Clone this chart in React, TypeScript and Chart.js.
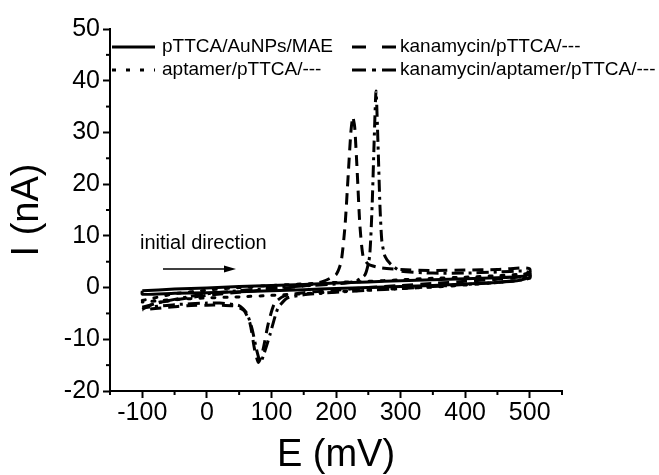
import React, { useEffect, useRef } from "react";
import { Chart, registerables } from "chart.js";

Chart.register(...registerables);

// ---- Data ----
const seriesNames = [
  "pTTCA/AuNPs/MAE",
  "aptamer/pTTCA/---",
  "kanamycin/pTTCA/---",
  "kanamycin/aptamer/pTTCA/---",
];

const solidE = [-100, -50, 0, 50, 100, 150, 200, 250, 300, 350, 400, 450, 490, 500, 500, 480, 450, 400, 350, 300, 250, 200, 150, 100, 50, 0, -50, -100, -100];
const solidI = [-0.6, -0.3, -0.1, 0.2, 0.4, 0.6, 0.9, 1.1, 1.3, 1.5, 1.7, 1.9, 2.2, 2.6, 2.0, 1.3, 1.0, 0.7, 0.4, 0.2, 0.0, -0.2, -0.4, -0.6, -0.8, -1.0, -1.1, -1.3, -0.6];

const dottedE = [-100, -50, 0, 50, 100, 150, 200, 250, 300, 350, 400, 450, 490, 500, 500, 480, 450, 400, 350, 300, 250, 200, 150, 100, 50, 0, -50, -100];
const dottedI = [-2.5, -1.2, -0.5, 0.0, 0.4, 0.7, 1.0, 1.2, 1.5, 1.8, 2.0, 2.3, 2.6, 2.8, 2.2, 1.4, 1.0, 0.5, 0.1, -0.2, -0.5, -0.8, -1.2, -1.5, -1.8, -2.0, -2.3, -2.8];

const dashedE = [-100, -80, -60, -30, 0, 50, 100, 150, 180, 200, 208, 214, 219, 223, 226, 229, 233, 237, 242, 250, 270, 300, 350, 400, 450, 490, 500,
  500, 480, 450, 400, 350, 300, 250, 200, 150, 120, 105, 95, 87, 80, 74, 67, 58, 45, 20, 0, -30, -60, -100];
const dashedI = [-4.2, -3.0, -2.6, -2.0, -1.5, -0.9, -0.3, 0.3, 1.2, 2.5, 5, 12, 22, 30, 33, 31, 22, 12, 6, 4.5, 3.8, 3.5, 3.3, 3.4, 3.5, 3.8, 3.6,
  2.6, 2.0, 1.6, 1.2, 0.8, 0.4, 0.0, -0.5, -1.0, -1.6, -3, -7, -12, -14.5, -12, -7, -4.5, -3.6, -3.4, -3.4, -3.5, -3.8, -4.3];

const dashDotE = [-100, -70, -30, 0, 50, 100, 150, 200, 230, 245, 252, 256, 259, 262, 265, 268, 271, 276, 285, 300, 350, 400, 450, 490, 500,
  500, 450, 400, 350, 300, 250, 200, 150, 125, 110, 98, 88, 83, 77, 70, 62, 50, 20, 0, -50, -100];
const dashDotI = [-3.8, -2.8, -1.8, -1.2, -0.6, -0.1, 0.3, 0.7, 1.2, 2.5, 6, 16, 28, 38, 28, 16, 9, 6, 4.5, 3.2, 2.8, 2.8, 3.0, 3.2, 2.8,
  1.8, 1.0, 0.6, 0.2, -0.2, -0.5, -0.9, -1.4, -2, -4, -9, -13, -14.5, -12, -8, -5, -3.5, -3.0, -3.0, -3.3, -3.9];

const xMin = -150, xMax = 550, xStep = 50;
const yMin = -20, yMax = 50, yStep = 5;
const xLabelTicks = [-100, 0, 100, 200, 300, 400, 500];
const yLabelTicks = [-20, -10, 0, 10, 20, 30, 40, 50];
const annotationText = "initial direction";

const FONT = "'Liberation Sans', Arial, Helvetica, sans-serif";

const dashes: number[][] = [[], [3, 9], [11, 7], [12, 5, 3, 5]];
const legendDashes: number[][] = [[], [4, 10], [14, 16], [14, 6, 4, 6]];

function pts(xs: number[], ys: number[]) {
  return xs.map((x, i) => ({ x, y: ys[i] }));
}

const legendPlugin = {
  id: "customLegend",
  afterDraw(chart: any) {
    const { ctx } = chart;
    const items = [
      { x1: 112, x2: 155, tx: 162, y: 47, i: 0 },
      { x1: 112, x2: 155, tx: 162, y: 70, i: 1 },
      { x1: 352, x2: 397, tx: 400, y: 47, i: 2 },
      { x1: 352, x2: 397, tx: 400, y: 70, i: 3 },
    ];
    ctx.save();
    items.forEach((it) => {
      ctx.beginPath();
      ctx.strokeStyle = "#000";
      ctx.lineWidth = 3;
      ctx.setLineDash(legendDashes[it.i]);
      ctx.moveTo(it.x1, it.y);
      ctx.lineTo(it.x2, it.y);
      ctx.stroke();
      ctx.setLineDash([]);
      ctx.fillStyle = "#000";
      ctx.font = `19px ${FONT}`;
      ctx.textBaseline = "middle";
      ctx.textAlign = "left";
      ctx.fillText(seriesNames[it.i], it.tx, it.y);
    });
    // annotation
    ctx.font = `20px ${FONT}`;
    ctx.fillText(annotationText, 140, 243);
    ctx.beginPath();
    ctx.lineWidth = 1.5;
    ctx.moveTo(163, 269);
    ctx.lineTo(228, 269);
    ctx.stroke();
    ctx.beginPath();
    ctx.moveTo(236, 269);
    ctx.lineTo(224, 265.5);
    ctx.lineTo(224, 272.5);
    ctx.closePath();
    ctx.fill();
    // minor ticks
    const xs = chart.scales.x;
    const ys = chart.scales.y;
    ctx.lineWidth = 2;
    for (let v = xMin; v <= xMax; v += xStep) {
      if (xLabelTicks.includes(v)) continue;
      const px = xs.getPixelForValue(v);
      ctx.beginPath();
      ctx.moveTo(px, xs.top);
      ctx.lineTo(px, xs.top + 4);
      ctx.stroke();
    }
    for (let v = yMin; v <= yMax; v += yStep) {
      if (yLabelTicks.includes(v)) continue;
      const py = ys.getPixelForValue(v);
      ctx.beginPath();
      ctx.moveTo(ys.right, py);
      ctx.lineTo(ys.right - 4, py);
      ctx.stroke();
    }
    ctx.restore();
  },
};

export default function App() {
  const ref = useRef<HTMLCanvasElement>(null);
  useEffect(() => {
    document.body.style.margin = "0";
    const data = [pts(solidE, solidI), pts(dottedE, dottedI), pts(dashedE, dashedI), pts(dashDotE, dashDotI)];
    const chart = new Chart(ref.current!, {
      type: "scatter",
      data: {
        datasets: data.map((d, i) => ({
          label: seriesNames[i],
          data: d,
          showLine: true,
          pointRadius: 0,
          borderColor: "#000",
          backgroundColor: "#000",
          borderWidth: 3,
          borderDash: dashes[i],
          borderCapStyle: i === 1 ? "round" : "butt",
          tension: 0.2,
          fill: false,
        })),
      },
      options: {
        animation: false,
        responsive: false,
        maintainAspectRatio: false,
        layout: { padding: { top: 29, right: 97, left: 0, bottom: 0 } },
        plugins: { legend: { display: false }, tooltip: { enabled: false } },
        scales: {
          x: {
            type: "linear",
            min: xMin,
            max: xMax,
            afterFit: (s: any) => { s.height = 84; },
            afterBuildTicks: (s: any) => {
              const t = [];
              for (let v = xMin; v <= xMax; v += xStep) t.push({ value: v });
              s.ticks = t;
            },
            border: { display: true, color: "#000", width: 2 },
            grid: {
              drawOnChartArea: false,
              drawTicks: true,
              tickLength: 7,
              tickWidth: 2,
              tickColor: (c: any) => (xLabelTicks.includes(c.tick?.value) ? "#000" : "rgba(0,0,0,0)"),
            },
            ticks: {
              autoSkip: false,
              maxRotation: 0,
              padding: 0,
              color: "#000",
              font: { family: FONT, size: 25 },
              callback: (v: any) => (xLabelTicks.includes(Number(v)) ? String(v) : ""),
            },
            title: {
              display: true,
              text: "E (mV)",
              color: "#000",
              font: { family: FONT, size: 38, lineHeight: 1 },
              padding: 0,
            },
          },
          y: {
            type: "linear",
            min: yMin,
            max: yMax,
            afterFit: (s: any) => { s.width = 110; },
            afterBuildTicks: (s: any) => {
              const t = [];
              for (let v = yMin; v <= yMax; v += yStep) t.push({ value: v });
              s.ticks = t;
            },
            border: { display: true, color: "#000", width: 2 },
            grid: {
              drawOnChartArea: false,
              drawTicks: true,
              tickLength: 7,
              tickWidth: 2,
              tickColor: (c: any) => (yLabelTicks.includes(c.tick?.value) ? "#000" : "rgba(0,0,0,0)"),
            },
            ticks: {
              autoSkip: false,
              padding: 3,
              color: "#000",
              font: { family: FONT, size: 25 },
              callback: (v: any) => (yLabelTicks.includes(Number(v)) ? String(v) : ""),
            },
            title: {
              display: true,
              text: "I (nA)",
              color: "#000",
              font: { family: FONT, size: 38, lineHeight: 1 },
              padding: { top: 9, bottom: 0 },
            },
          },
        },
      },
      plugins: [legendPlugin],
    } as any);
    return () => chart.destroy();
  }, []);
  return (
    <div style={{ position: "absolute", left: 0, top: 0, width: 659, height: 475, background: "#fff" }}>
      <canvas ref={ref} width={659} height={475} style={{ width: 659, height: 475 }} />
    </div>
  );
}
